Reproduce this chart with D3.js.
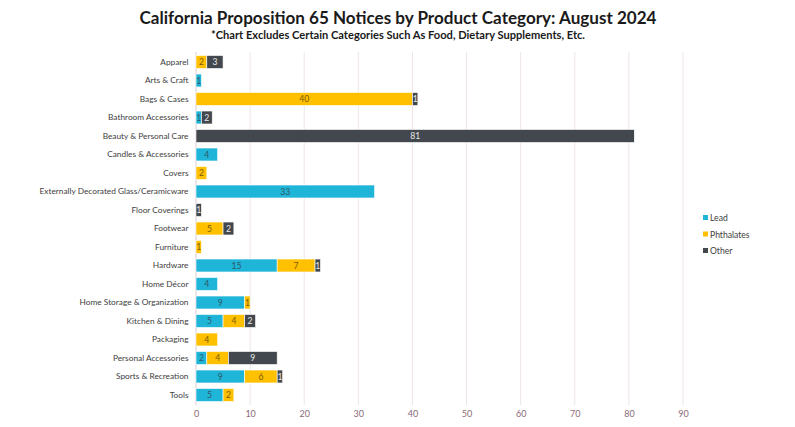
<!DOCTYPE html>
<html><head><meta charset="utf-8">
<script src="https://cdn.jsdelivr.net/npm/d3@7"></script>
<style>body{margin:0;background:#fff}svg{display:block}</style>
</head><body><svg id="c" width="795" height="427"></svg>
<script>
const categories = ["Apparel","Arts & Craft","Bags & Cases","Bathroom Accessories","Beauty & Personal Care","Candles & Accessories","Covers","Externally Decorated Glass/Ceramicware","Floor Coverings","Footwear","Furniture","Hardware","Home Décor","Home Storage & Organization","Kitchen & Dining","Packaging","Personal Accessories","Sports & Recreation","Tools"];
const lead =       [0,1,0,1,0,4,0,33,0,0,0,15,4,9,5,0,2,9,5];
const phthalates = [2,0,40,0,0,0,2,0,0,5,1,7,0,1,4,4,4,6,2];
const other =      [3,0,1,2,81,0,0,0,1,2,0,1,0,0,2,0,9,1,0];
const seriesNames = ["Lead","Phthalates","Other"];
const xTicks = [0,10,20,30,40,50,60,70,80,90];
const title = "California Proposition 65 Notices by Product Category: August 2024";
const subtitle = "*Chart  Excludes Certain Categories Such As Food, Dietary Supplements, Etc.";

const colors = {Lead:"#1fb5d9", Phthalates:"#ffc000", Other:"#43484e"};
const labelColors = {Lead:"#2f5866", Phthalates:"#7a5a00", Other:"#e8e8e8"};
const font = "Lato, 'Open Sans', sans-serif";

const rows = categories.map((c,i)=>({cat:c, Lead:lead[i], Phthalates:phthalates[i], Other:other[i]}));
const stack = d3.stack().keys(seriesNames)(rows);

const svg = d3.select("#c");
const x = d3.scaleLinear().domain([0,90]).range([196,683]);
const y = d3.scaleBand().domain(categories).range([52.75,404.25]).paddingInner(0.3).paddingOuter(0.15);

svg.append("text").attr("x",398).attr("y",24).attr("text-anchor","middle")
  .attr("font-family",font).attr("font-weight","bold").attr("font-size",17.3).attr("fill","#1a1a1a")
  .attr("textLength",517).attr("lengthAdjust","spacingAndGlyphs").text(title);
svg.append("text").attr("x",398).attr("y",38.5).attr("text-anchor","middle")
  .attr("font-family",font).attr("font-weight","bold").attr("font-size",10.5).attr("fill","#1a1a1a")
  .attr("textLength",374).attr("lengthAdjust","spacingAndGlyphs").text(subtitle);

// gridlines
svg.append("g").selectAll("line").data(xTicks).join("line")
  .attr("x1",d=>x(d)).attr("x2",d=>x(d)).attr("y1",52).attr("y2",405)
  .attr("stroke",d=>d===0?"#dcc9d0":"#efe4e8").attr("stroke-width",1);

// x axis labels
const xAxis = svg.append("g").attr("transform","translate(0,405)")
  .call(d3.axisBottom(x).tickValues(xTicks).tickSize(0).tickPadding(6));
xAxis.select(".domain").remove();
xAxis.selectAll("text").attr("font-family",font).attr("font-size",9).attr("fill","#8a6a78");

// y axis labels
const yAxis = svg.append("g").attr("transform","translate(188.5,0)")
  .call(d3.axisLeft(y).tickSize(0).tickPadding(0));
yAxis.select(".domain").remove();
yAxis.selectAll("text").attr("font-family",font).attr("font-size",8.3).attr("fill","#404040");

// bars
const g = svg.append("g");
stack.forEach(s=>{
  const key = s.key;
  const segs = s.map((d,i)=>({d, cat:categories[i], v:d[1]-d[0]})).filter(o=>o.v>0);
  g.append("g").selectAll("rect").data(segs).join("rect")
    .attr("x",o=>x(o.d[0])).attr("width",o=>x(o.d[1])-x(o.d[0]))
    .attr("y",o=>y(o.cat)).attr("height",y.bandwidth())
    .attr("fill",colors[key]).attr("stroke","#ffffff").attr("stroke-width",0.6);
  g.append("g").selectAll("text").data(segs).join("text")
    .attr("x",o=>(x(o.d[0])+x(o.d[1]))/2).attr("y",o=>y(o.cat)+y.bandwidth()/2)
    .attr("dy","0.35em").attr("text-anchor","middle")
    .attr("font-family",font).attr("font-size",8.6).attr("fill",labelColors[key]).text(o=>o.v);
});

// legend
const lg = svg.append("g");
seriesNames.forEach((n,i)=>{
  const yy = 218 + i*16.5;
  lg.append("rect").attr("x",703).attr("y",yy-3).attr("width",5).attr("height",5).attr("fill",colors[n]);
  lg.append("text").attr("x",710).attr("y",yy).attr("dy","0.35em").attr("font-family",font)
    .attr("font-size",8.6).attr("fill","#404040").text(n);
});
</script></body></html>
